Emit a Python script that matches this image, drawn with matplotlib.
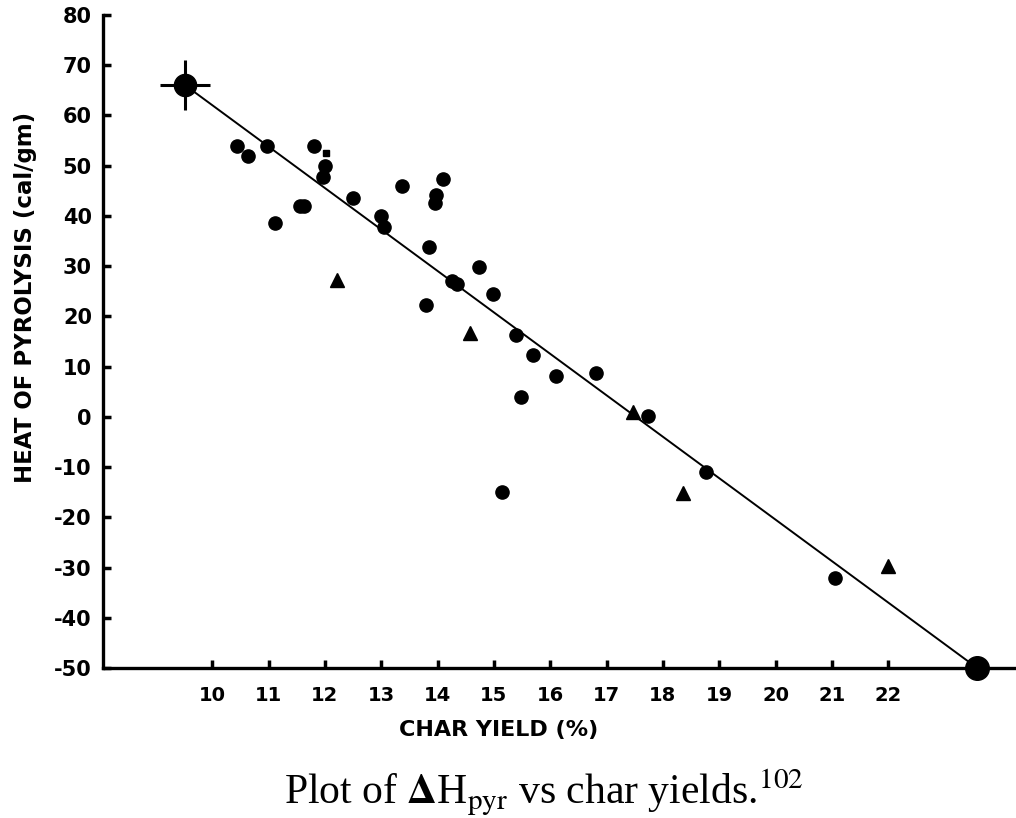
import numpy as np
import matplotlib.pyplot as plt

plt.rcParams['mathtext.fontset'] = 'stix'

# Char yield (%) vs heat of pyrolysis (cal/gm)
circ_x = [10.44, 10.64, 10.98, 11.12, 11.55, 11.62, 11.81, 12.0, 11.97, 12.5,
          13.0, 13.04, 13.37, 13.85, 13.8, 13.96, 13.98, 14.09, 14.25, 14.35,
          14.73, 14.99, 15.4, 15.7, 16.11, 15.49, 16.82, 17.73, 15.15, 18.76, 21.05]
circ_y = [54, 52, 54, 38.6, 42, 42, 54, 50, 47.8, 43.6,
          40, 37.8, 46, 33.9, 22.2, 42.5, 44.2, 47.4, 27, 26.5,
          29.8, 24.4, 16.2, 12.3, 8.2, 4, 8.8, 0.2, -15, -11, -32]
tri_x = [12.22, 14.57, 17.47, 18.35, 21.99]
tri_y = [27.3, 16.6, 1.0, -15.2, -29.6]
sq_x = [12.02]
sq_y = [52.6]

# end points of the fitted line
line_x = [9.52, 23.58]
line_y = [66, -50]

xticks = list(range(10, 23))
yticks = list(range(-50, 81, 10))

fig = plt.figure(figsize=(10.16, 8.18), dpi=100)
ax = fig.add_axes([0.1014, 0.1834, 0.8986, 0.7983])

ax.plot(line_x, line_y, color='black', lw=1.4, zorder=2)
ax.plot(circ_x, circ_y, 'o', color='black', ms=9.5, zorder=3)
ax.plot(tri_x, tri_y, '^', color='black', ms=10, zorder=3)
ax.plot(sq_x, sq_y, 's', color='black', ms=5, zorder=3)

# the two anchor points of the line
ax.plot(line_x[0], line_y[0], 'o', color='black', ms=16, zorder=4)
ax.plot(line_x[0], line_y[0], '+', color='black', ms=36, mew=2.2, zorder=4)
ax.plot(line_x[1], line_y[1], 'o', color='black', ms=17, zorder=4, clip_on=False)

ax.set_xlim(8.06, 24.27)
ax.set_ylim(-50, 80)
ax.set_xticks(xticks)
ax.set_yticks(yticks)
ax.set_xticklabels([str(t) for t in xticks], fontsize=14, fontweight='bold')
ax.set_yticklabels([str(t) for t in yticks], fontsize=15, fontweight='bold')
ax.tick_params(direction='in', length=6, width=2.5, pad=8)
ax.tick_params(axis='x', pad=13)

for side in ['top', 'right']:
    ax.spines[side].set_visible(False)
for side in ['left', 'bottom']:
    ax.spines[side].set_linewidth(2.4)

ax.set_xlabel('CHAR YIELD (%)', fontsize=16, fontweight='bold')
ax.set_ylabel('HEAT OF PYROLYSIS (cal/gm)', fontsize=16.5, fontweight='bold')
ax.xaxis.set_label_coords(0.433, -0.080)
ax.yaxis.set_label_coords(-0.072, 0.567)

fig.text(0.535, 0.031, r'Plot of $\mathbf{\Delta}$H$_{\rm pyr}$ vs char yields.$^{102}$',
         ha='center', va='center', fontsize=30, family='Liberation Serif')

fig.savefig('out.png', dpi=100, facecolor='white')
